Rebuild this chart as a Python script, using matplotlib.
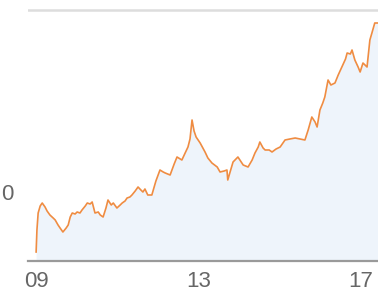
import matplotlib
matplotlib.use("Agg")
import matplotlib.pyplot as plt

# Data
years = [2009.00, 2009.02, 2009.05, 2009.10, 2009.15, 2009.22, 2009.27, 2009.34, 2009.42, 2009.47,
         2009.54, 2009.59, 2009.66, 2009.74, 2009.79, 2009.84, 2009.89, 2009.96, 2010.01, 2010.08,
         2010.13, 2010.21, 2010.26, 2010.33, 2010.38, 2010.45, 2010.53, 2010.58, 2010.65, 2010.72,
         2010.77, 2010.85, 2010.90, 2010.99, 2011.07, 2011.12, 2011.19, 2011.24, 2011.31, 2011.36,
         2011.44, 2011.51, 2011.58, 2011.63, 2011.68, 2011.75, 2011.85, 2011.95, 2012.05, 2012.13,
         2012.18, 2012.30, 2012.40, 2012.47, 2012.59, 2012.67, 2012.74, 2012.79, 2012.84, 2012.89,
         2012.94, 2013.04, 2013.16, 2013.23, 2013.33, 2013.46, 2013.53, 2013.63, 2013.70, 2013.72,
         2013.77, 2013.85, 2013.97, 2014.10, 2014.22, 2014.32, 2014.39, 2014.47, 2014.51, 2014.59,
         2014.64, 2014.74, 2014.81, 2014.91, 2015.01, 2015.13, 2015.25, 2015.38, 2015.50, 2015.62,
         2015.70, 2015.79, 2015.87, 2015.92, 2015.99, 2016.06, 2016.11, 2016.19, 2016.26, 2016.36,
         2016.44, 2016.53, 2016.62, 2016.66, 2016.74, 2016.78, 2016.85, 2016.93, 2016.98, 2017.05,
         2017.10, 2017.15, 2017.22, 2017.27, 2017.34, 2017.44]
values = [9, 31, 48, 55, 58, 54, 50, 46, 43, 41,
          36, 33, 29, 33, 36, 44, 48, 47, 49, 48,
          51, 55, 58, 57, 59, 48, 49, 46, 44, 53,
          61, 56, 58, 53, 56, 58, 60, 63, 64, 66,
          70, 74, 71, 69, 72, 66, 66, 80, 91, 89,
          88, 86, 97, 104, 101, 108, 114, 122, 141, 130,
          124, 118, 109, 103, 98, 94, 89, 90, 91, 81,
          88, 99, 104, 96, 94, 101, 108, 114, 119, 113,
          111, 111, 109, 112, 114, 121, 122, 123, 122, 121,
          131, 144, 139, 134, 151, 158, 164, 181, 176, 178,
          186, 194, 202, 208, 207, 211, 201, 194, 189, 198,
          196, 194, 221, 228, 238, 238]
tick_years = [2009, 2013, 2017]
tick_labels = ["09", "13", "17"]
grid_value = 251

W, H = 378, 293
fig = plt.figure(figsize=(W / 100, H / 100), dpi=100)
fig.patch.set_facecolor("white")
ax = fig.add_axes([28 / W, (H - 261) / H, (378 - 28) / W, 255 / H])
ax.set_facecolor("white")

ax.fill_between(years, values, 0, color="#eef4fb", zorder=1, linewidth=0)
ax.plot(years, values, color="#ef8c42", lw=1.2, zorder=3)
ax.axhline(grid_value, color="#dddddd", lw=1.8, zorder=0)

ax.set_xlim(2008.80, 2017.42)
ax.set_ylim(0, 255)

for s in ["top", "left", "right"]:
    ax.spines[s].set_visible(False)
ax.spines["bottom"].set_color("#9a9a9a")
ax.spines["bottom"].set_linewidth(1.6)
ax.spines["bottom"].set_zorder(4)

ax.set_yticks([])
ax.set_xticks(tick_years)
ax.set_xticklabels(tick_labels, fontsize=16, color="#666666", family="Liberation Sans")
ax.tick_params(axis="x", length=0, pad=7)

# y label at the left edge
fig.text(1 / W, (H - 195) / H, "0", fontsize=16, color="#666666",
         family="Liberation Sans", ha="left", va="center")

fig.savefig("out.png", dpi=100, facecolor="white")
